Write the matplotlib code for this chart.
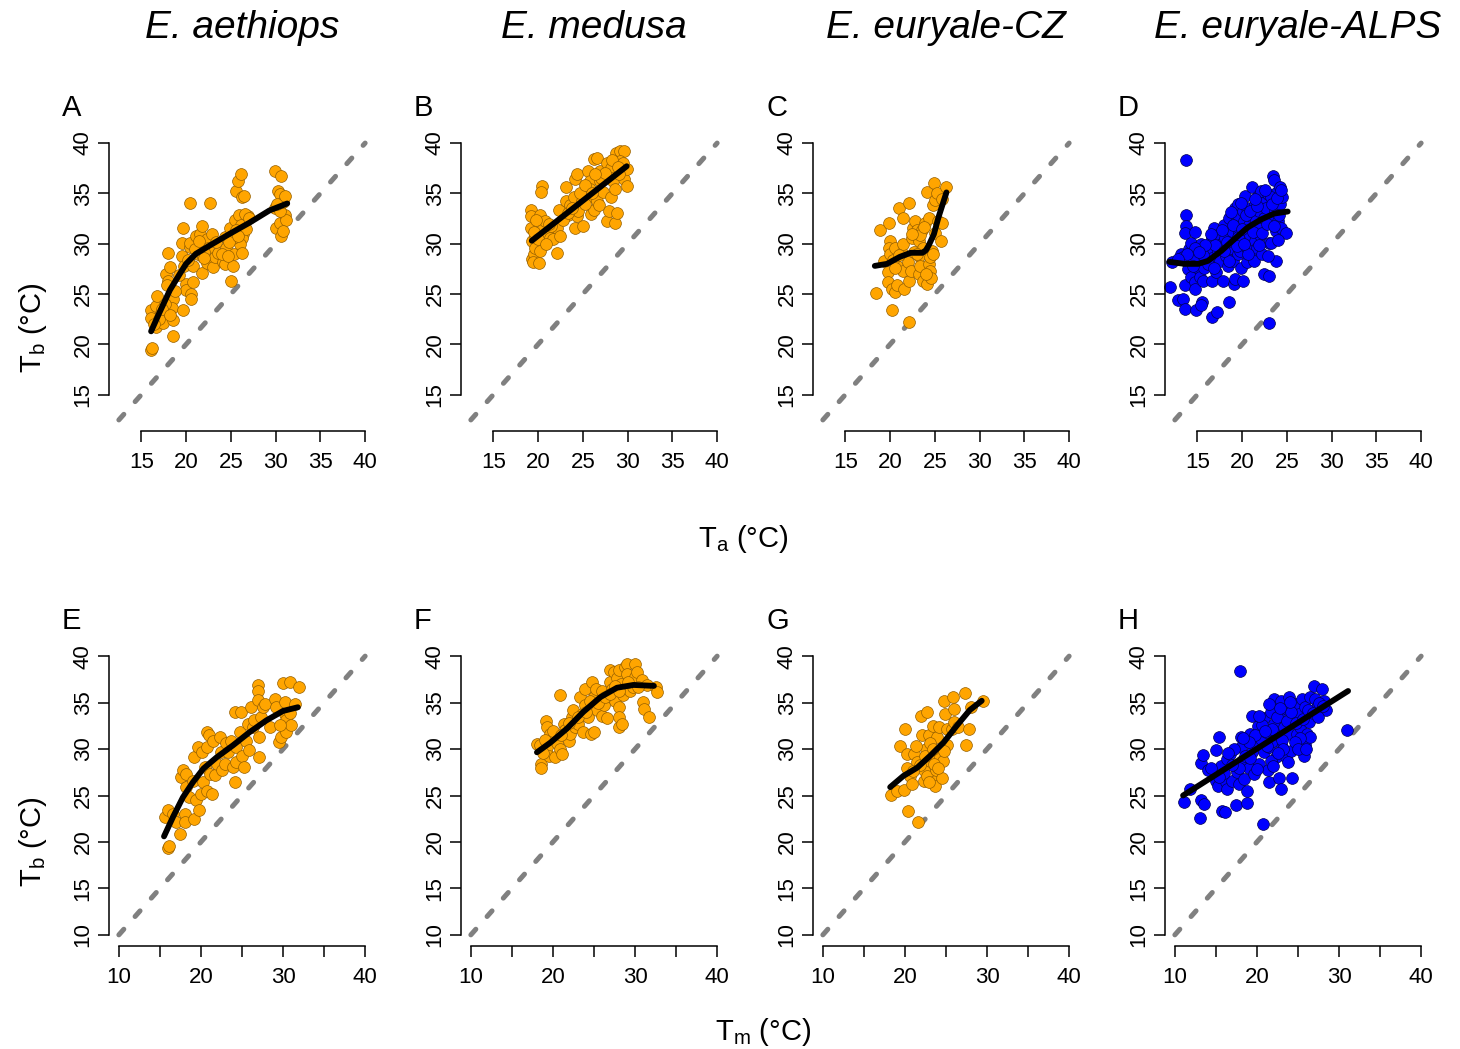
import matplotlib
matplotlib.use('Agg')
import matplotlib.pyplot as plt

plt.rcParams['font.family'] = ['Liberation Sans', 'DejaVu Sans']
plt.rcParams['mathtext.fontset'] = 'custom'
plt.rcParams['mathtext.rm'] = 'Liberation Sans'
plt.rcParams['mathtext.it'] = 'Liberation Sans:italic'

species = ['E. aethiops', 'E. medusa', 'E. euryale-CZ', 'E. euryale-ALPS']
letters_top = ['A', 'B', 'C', 'D']
letters_bottom = ['E', 'F', 'G', 'H']
fills = ['orange', 'orange', 'orange', 'blue']

#### T O P _ R O W : Tb vs Ta ####
A_x = [16.1, 16.1, 16.1, 16.15, 16.7, 16.7, 16.75, 17.2, 17.4, 18.0, 17.8, 18.0, 18.0, 18.2, 17.9, 18.5, 18.5, 18.5,
       18.4, 19.65, 19.65, 19.6, 19.6, 19.8, 20.0, 20.0, 20.4, 20.4, 20.4, 20.6, 20.5, 20.8, 20.8, 21.1, 21.3, 21.6,
       21.8, 21.8, 21.9, 22.3, 22.3, 22.4, 22.7, 22.9, 23.0, 23.2, 23.6, 24.1, 24.3, 24.4, 24.5, 25.0, 24.9, 25.2,
       25.4, 25.6, 25.8, 26.1, 26.2, 26.5, 25.5, 25.9, 26.1, 26.4, 26.2, 26.0, 26.2, 26.9, 25.2, 29.9, 30.6, 30.3,
       30.5, 29.9, 30.0, 30.6, 30.5, 31.0, 31.2, 30.8, 30.5, 30.8, 17.0, 17.6, 18.8, 19.2, 20.2, 21.0, 21.5, 22.0,
       23.4, 24.0, 24.8, 25.6, 26.6, 26.7, 27.0, 30.2, 31.1, 17.3, 18.2, 16.4, 22.0, 24.7, 25.8]
A_y = [23.4, 22.6, 19.4, 19.6, 23.8, 21.7, 24.8, 23.1, 22.1, 23.1, 27.0, 26.3, 29.1, 27.7, 25.95, 22.4, 20.8, 24.5,
       23.6, 23.4, 31.6, 28.8, 30.1, 27.8, 26.0, 25.4, 34.0, 29.7, 30.1, 25.0, 24.5, 26.2, 27.8, 30.8, 29.0, 31.0,
       31.8, 27.1, 28.7, 28.1, 30.5, 29.6, 34.0, 31.0, 27.7, 28.7, 29.1, 28.2, 30.7, 28.0, 29.6, 26.3, 31.6, 27.8,
       29.0, 35.2, 36.2, 36.9, 34.6, 34.7, 32.4, 32.9, 31.9, 31.0, 30.6, 30.0, 29.1, 32.8, 30.6, 37.2, 36.7, 35.2,
       34.9, 33.6, 31.6, 30.8, 32.1, 32.9, 32.4, 31.3, 33.3, 34.1, 22.5, 24.0, 25.3, 26.9, 28.4, 29.5, 30.3, 29.2,
       30.2, 29.0, 30.2, 31.4, 33.0, 31.5, 32.6, 33.9, 34.7, 23.5, 22.9, 22.0, 28.6, 28.8, 30.8]

B_x = [19.2, 19.2, 19.2, 19.3, 19.3, 19.5, 19.4, 20.1, 19.7, 19.7, 20.4, 20.3, 20.2, 20.2, 20.6, 20.8, 21.0, 21.3,
       21.7, 22.1, 22.3, 22.1, 22.4, 23.1, 23.1, 23.4, 23.6, 24.0, 24.1, 24.3, 24.1, 24.3, 24.5, 25.0, 24.9, 25.6,
       25.8, 25.8, 25.6, 25.9, 26.2, 26.3, 26.6, 26.6, 26.9, 26.9, 26.8, 27.3, 27.7, 27.9, 27.7, 28.1, 28.2, 28.4,
       28.1, 28.6, 28.6, 28.8, 28.7, 29.2, 29.6, 29.2, 29.4, 29.6, 29.9, 29.9, 29.0, 19.5, 20.0, 20.9, 21.5, 22.8,
       23.3, 24.7, 25.3, 26.0, 27.0, 27.5, 28.3, 29.5, 19.8, 21.2, 23.8, 25.2, 26.4, 28.9]
B_y = [33.4, 32.8, 31.6, 30.3, 28.5, 29.0, 28.2, 28.1, 29.6, 30.8, 35.7, 35.1, 32.9, 29.3, 31.6, 32.3, 31.1, 30.6,
       30.5, 29.1, 33.4, 31.6, 30.8, 35.6, 34.2, 32.9, 33.8, 34.6, 36.4, 36.9, 31.6, 32.8, 33.3, 31.8, 34.2, 37.2,
       36.2, 35.4, 34.6, 33.0, 33.4, 38.4, 38.5, 34.2, 37.2, 36.2, 33.8, 35.1, 32.3, 33.3, 38.0, 37.5, 36.5, 36.2,
       34.6, 35.4, 32.1, 33.1, 39.0, 39.2, 39.2, 38.2, 37.2, 36.4, 35.7, 37.4, 36.9, 31.2, 30.5, 30.0, 31.8, 32.4,
       33.1, 35.0, 35.8, 35.0, 36.5, 37.0, 38.3, 38.0, 32.4, 32.0, 33.6, 33.9, 36.9, 37.6]

C_x = [18.4, 18.9, 19.3, 19.8, 19.8, 19.9, 20.0, 19.9, 20.0, 20.2, 20.2, 20.5, 20.8, 20.6, 20.8, 21.0, 21.3, 21.5,
       21.5, 21.6, 21.5, 22.1, 22.0, 22.1, 22.1, 22.3, 22.4, 22.6, 22.8, 23.0, 23.2, 23.2, 23.2, 23.4, 23.6, 23.7,
       23.9, 24.1, 24.1, 24.3, 24.3, 24.5, 24.5, 24.6, 24.8, 24.9, 25.0, 25.0, 25.2, 25.4, 25.7, 25.8, 25.8, 26.3,
       24.7, 23.7, 23.4, 20.3, 21.0, 22.7, 23.0, 24.0, 24.8, 22.5, 23.8, 20.5]
C_y = [25.1, 31.4, 28.3, 27.2, 26.2, 32.1, 30.3, 29.6, 29.0, 23.4, 25.5, 25.2, 25.9, 29.6, 27.8, 33.6, 29.1, 30.0,
       27.3, 25.5, 32.6, 34.0, 28.2, 26.3, 22.2, 27.3, 30.6, 31.6, 32.3, 31.4, 30.3, 28.8, 27.0, 27.8, 31.4, 26.3,
       32.1, 35.1, 26.0, 32.6, 28.0, 28.7, 27.3, 26.6, 33.8, 36.0, 31.1, 34.3, 35.0, 32.3, 30.3, 32.1, 34.4, 35.6,
       29.3, 29.6, 30.9, 28.4, 28.9, 29.2, 29.0, 27.0, 29.0, 31.0, 31.7, 27.6]

D_x = [12.0, 12.2, 12.9, 13.2, 13.4, 13.6, 13.7, 13.7, 13.7, 13.6, 13.6, 13.8, 14.0, 14.1, 14.3, 14.3, 14.7, 14.7,
       14.9, 14.8, 14.9, 15.1, 15.3, 15.4, 15.5, 15.4, 15.6, 15.8, 16.0, 16.4, 16.6, 16.6, 16.7, 16.7, 16.9, 17.1,
       17.2, 17.3, 17.3, 17.5, 17.7, 17.9, 18.0, 18.1, 18.2, 18.4, 18.6, 18.6, 18.8, 18.9, 18.97, 19.1, 19.2, 19.2,
       19.3, 19.3, 19.5, 19.5, 19.5, 19.7, 19.8, 19.9, 20.1, 20.1, 20.2, 20.3, 20.3, 20.5, 20.6, 20.6, 20.8, 20.9,
       21.0, 21.1, 21.2, 21.3, 21.4, 21.5, 21.6, 21.7, 21.8, 21.8, 21.9, 22.0, 22.1, 22.2, 22.3, 22.4, 22.5, 22.7,
       22.9, 23.0, 23.0, 23.0, 23.2, 23.4, 23.5, 23.6, 23.7, 23.8, 23.8, 23.9, 24.0, 24.2, 24.2, 24.3, 24.5, 24.9,
       23.2, 19.0, 19.6, 20.0, 20.4, 20.9, 21.2, 21.7, 22.2, 22.8, 23.3, 23.9, 24.1, 18.3, 17.0, 16.2, 15.6, 14.5,
       13.4, 18.8, 19.9, 21.4, 22.6, 24.4, 20.7, 19.4, 18.6, 17.8, 16.5, 15.9, 14.8, 21.9, 22.9, 23.6, 24.0, 20.2,
       18.0, 16.9, 15.2, 13.9, 12.9]
D_y = [25.7, 28.2, 24.4, 29.0, 24.5, 23.5, 38.3, 32.9, 31.8, 31.1, 25.9, 28.3, 27.5, 29.5, 30.1, 26.7, 26.2, 25.5,
       23.4, 31.2, 28.6, 27.6, 26.7, 30.0, 24.2, 23.9, 26.3, 27.6, 29.0, 29.3, 30.6, 22.7, 28.6, 26.3, 31.6, 27.2,
       23.2, 30.9, 29.3, 28.3, 30.0, 26.3, 31.9, 30.6, 28.8, 27.8, 24.2, 32.6, 29.6, 31.3, 28.3, 26.0, 26.5, 33.6,
       32.2, 30.3, 29.0, 32.9, 33.9, 31.1, 29.3, 27.6, 26.3, 33.3, 32.3, 34.7, 30.6, 28.2, 33.6, 29.6, 31.9, 30.9,
       32.8, 35.6, 28.8, 28.3, 33.9, 30.3, 32.4, 29.6, 31.6, 34.7, 33.3, 30.9, 35.2, 29.0, 34.0, 27.0, 32.6, 33.6,
       34.9, 26.8, 22.1, 30.1, 30.1, 32.3, 36.7, 36.3, 33.3, 31.3, 28.3, 35.1, 32.3, 35.6, 33.9, 31.6, 34.6, 31.1,
       34.6, 31.9, 30.7, 31.5, 32.9, 33.3, 31.2, 33.7, 31.1, 32.0, 33.9, 34.5, 32.9, 30.2, 29.9, 28.0, 28.9, 27.8,
       28.7, 33.2, 34.0, 34.4, 35.3, 35.3, 29.0, 29.8, 28.3, 31.4, 31.0, 29.9, 29.6, 29.9, 28.8, 31.8, 30.4, 30.0,
       29.3, 27.6, 29.2, 29.0, 28.5]

#### B O T T O M _ R O W : Tb vs Tm ####
E_x = [15.6, 16.0, 16.0, 16.05, 16.6, 17.0, 17.4, 17.6, 17.8, 18.0, 18.0, 18.2, 18.2, 18.6, 19.0, 19.2, 19.2, 19.4,
       19.6, 19.8, 20.0, 20.1, 20.3, 20.5, 20.7, 20.7, 20.7, 21.0, 21.1, 21.3, 21.5, 21.7, 21.9, 22.3, 22.5, 22.6,
       22.9, 23.1, 23.3, 23.7, 23.9, 24.1, 24.1, 24.3, 24.3, 24.7, 24.9, 25.0, 25.3, 25.5, 25.7, 25.9, 26.1, 26.3,
       26.5, 26.9, 26.9, 26.9, 27.1, 27.1, 27.3, 27.5, 27.8, 28.4, 29.0, 29.2, 29.5, 29.8, 30.0, 30.2, 30.2, 30.4,
       30.4, 30.8, 30.8, 31.0, 31.5, 32.0, 29.6]
E_y = [22.7, 23.4, 19.4, 19.6, 23.0, 22.1, 20.9, 27.0, 27.7, 23.0, 22.1, 25.9, 27.3, 24.8, 26.6, 29.1, 22.5, 24.5,
       30.2, 23.4, 25.2, 29.7, 26.4, 28.1, 30.2, 25.5, 31.8, 31.5, 27.3, 25.2, 30.9, 27.2, 28.4, 31.3, 29.7, 27.7,
       28.4, 30.6, 29.7, 30.9, 28.1, 34.0, 26.4, 30.2, 28.6, 31.8, 34.0, 29.3, 28.1, 30.9, 32.7, 29.9, 34.5, 32.4,
       33.1, 36.9, 36.2, 35.3, 29.1, 31.3, 33.5, 34.5, 34.9, 32.4, 35.4, 34.5, 30.8, 31.3, 37.1, 33.8, 35.1, 33.1,
       31.8, 37.2, 33.9, 32.6, 34.8, 36.7, 32.6]

F_x = [18.05, 18.4, 18.5, 18.5, 19.1, 19.3, 19.3, 19.5, 19.7, 20.1, 20.3, 20.5, 20.8, 20.9, 21.1, 21.3, 21.5, 21.9,
       22.1, 22.3, 22.5, 22.7, 23.1, 23.3, 23.5, 23.7, 23.9, 23.9, 24.3, 24.6, 24.8, 25.0, 25.0, 25.2, 25.4, 25.8,
       26.0, 26.0, 26.2, 26.6, 26.9, 27.0, 27.2, 27.4, 27.6, 27.8, 28.0, 28.0, 28.1, 28.0, 28.3, 28.4, 28.5, 28.8,
       29.0, 29.0, 29.4, 29.8, 30.0, 30.0, 30.2, 30.9, 31.0, 31.1, 31.5, 31.7, 32.6, 32.7, 19.0, 20.0, 21.0, 22.0,
       23.0, 24.0, 24.5, 25.5, 26.3, 27.0, 27.5, 28.0, 29.2, 30.4, 18.8]
F_y = [30.55, 30.4, 28.4, 28.0, 33.0, 32.4, 30.2, 29.3, 31.6, 31.3, 29.1, 30.7, 35.8, 30.0, 29.5, 32.7, 32.0, 30.9,
       31.6, 33.4, 34.2, 32.4, 32.7, 35.6, 33.8, 31.8, 36.5, 34.7, 33.4, 31.6, 37.2, 31.8, 35.6, 36.5, 34.2, 35.1,
       36.3, 33.6, 34.7, 33.3, 38.5, 37.2, 36.5, 38.3, 35.2, 37.6, 34.5, 33.4, 38.5, 32.4, 37.0, 32.7, 35.8, 38.8,
       39.2, 38.1, 36.3, 36.7, 39.2, 37.8, 38.3, 37.4, 35.1, 34.3, 36.9, 33.4, 36.7, 36.1, 31.0, 31.9, 31.5, 32.8,
       33.5, 34.0, 35.2, 35.0, 35.6, 35.9, 36.8, 36.2, 37.2, 36.7, 29.6]

G_x = [18.3, 19.4, 19.0, 19.9, 20.0, 20.2, 20.3, 20.4, 20.6, 20.9, 21.1, 21.5, 21.6, 21.9, 22.1, 22.3, 22.3, 22.6,
       22.7, 22.7, 22.9, 23.0, 23.3, 23.4, 23.6, 23.7, 23.8, 23.9, 24.1, 24.3, 24.5, 24.6, 24.7, 24.9, 25.1, 25.1,
       25.7, 25.9, 26.0, 26.0, 26.5, 27.3, 27.4, 27.8, 28.0, 29.5, 23.1, 23.5, 21.3, 21.8, 22.4, 23.4, 24.0, 24.8,
       21.0, 22.9]
G_y = [25.1, 30.3, 25.5, 25.6, 32.2, 28.0, 29.5, 23.3, 27.1, 26.2, 29.5, 28.6, 22.2, 33.6, 31.5, 26.6, 27.7, 30.0,
       34.0, 27.1, 31.5, 28.7, 29.5, 32.5, 26.6, 26.0, 27.7, 31.3, 32.4, 29.1, 26.9, 28.7, 35.2, 33.8, 30.4, 32.2,
       32.2, 35.6, 34.3, 32.9, 32.4, 36.0, 30.4, 32.2, 34.5, 35.2, 30.7, 28.4, 30.3, 28.3, 29.3, 30.0, 28.0, 29.8,
       27.6, 26.4]

H_x = [11.1, 11.9, 13.1, 13.2, 13.4, 13.2, 13.6, 14.0, 15.0, 15.0, 15.2, 15.4, 15.6, 15.8, 16.1, 16.2, 16.3, 16.4,
       16.7, 17.0, 17.4, 17.6, 17.8, 17.9, 18.0, 18.0, 18.2, 18.4, 18.8, 18.8, 19.0, 19.2, 19.4, 19.4, 19.6, 19.9,
       20.1, 20.3, 20.5, 20.7, 20.9, 20.9, 21.1, 21.3, 21.5, 21.5, 21.7, 21.9, 22.1, 22.1, 22.3, 22.5, 22.7, 22.7,
       22.9, 22.9, 23.1, 23.3, 23.5, 23.7, 23.9, 24.0, 24.1, 24.3, 24.4, 24.7, 24.9, 25.1, 25.3, 25.5, 25.7, 25.8,
       25.9, 26.1, 26.3, 26.5, 26.5, 26.9, 27.1, 27.3, 27.9, 28.2, 28.4, 31.0, 21.7, 19.8, 20.6, 21.2, 21.8, 22.4,
       23.0, 23.6, 24.2, 24.8, 25.2, 25.6, 26.2, 26.8, 27.6, 18.6, 17.8, 16.9, 16.0, 15.4, 14.4, 19.2, 20.0, 22.0,
       23.2, 24.6, 21.5, 20.3, 19.0, 18.3, 22.6, 23.8, 25.0, 26.0, 27.4, 28.0, 17.2, 16.5, 24.0, 22.8, 21.0]
H_y = [24.3, 25.7, 22.6, 28.5, 29.4, 24.5, 24.1, 27.7, 29.9, 26.6, 26.0, 31.3, 28.2, 23.3, 23.2, 26.4, 28.9, 25.7,
       29.5, 26.6, 24.0, 27.5, 26.2, 38.4, 30.2, 31.3, 28.7, 26.8, 24.2, 25.5, 28.0, 31.6, 33.6, 29.7, 27.3, 30.6,
       32.5, 28.4, 31.1, 21.9, 33.3, 29.7, 31.8, 27.7, 26.4, 30.2, 34.0, 30.9, 35.4, 32.7, 29.1, 31.6, 26.9, 33.6,
       25.7, 35.2, 30.2, 32.4, 29.1, 34.3, 35.6, 31.6, 29.8, 26.9, 33.1, 34.9, 31.6, 33.8, 32.4, 35.4, 29.3, 30.4,
       34.5, 31.6, 32.9, 35.6, 31.3, 36.8, 35.4, 34.5, 36.5, 35.2, 34.2, 32.0, 28.7, 31.5, 32.6, 30.3, 32.2, 33.5,
       31.0, 33.0, 34.0, 32.8, 31.2, 33.2, 34.2, 33.9, 35.0, 29.3, 28.0, 28.3, 27.4, 27.0, 28.0, 29.0, 27.8, 28.2,
       30.0, 30.8, 34.8, 33.6, 30.8, 31.2, 29.6, 28.6, 30.0, 30.0, 33.4, 34.6, 30.0, 29.6, 35.1, 34.4, 31.9]

# fitted smooth curves
A_fit_x = [16.1, 17.0, 18.2, 19.3, 20.0, 21.1, 22.6, 24.9, 27.1, 29.3, 31.3]
A_fit_y = [21.3, 23.1, 25.4, 27.0, 28.0, 29.0, 29.8, 31.0, 32.1, 33.3, 34.0]
B_fit_x = [19.3, 29.9]
B_fit_y = [30.3, 37.7]
C_fit_x = [18.3, 19.65, 21.1, 22.3, 23.6, 24.0, 24.3, 24.9, 25.4, 26.3]
C_fit_y = [27.8, 28.0, 28.7, 29.1, 29.1, 29.35, 29.8, 30.95, 32.6, 35.1]
D_fit_x = [11.9, 13.6, 15.1, 16.2, 17.7, 19.2, 20.6, 22.1, 23.6, 25.1]
D_fit_y = [28.2, 28.0, 28.0, 28.3, 29.3, 30.5, 31.6, 32.4, 33.0, 33.2]
E_fit_x = [15.5, 16.6, 17.8, 19.0, 20.3, 21.9, 23.9, 25.9, 28.0, 30.0, 31.8]
E_fit_y = [20.6, 22.7, 24.8, 26.4, 27.9, 29.1, 30.4, 31.8, 33.1, 34.1, 34.5]
F_fit_x = [18.05, 19.7, 21.7, 23.7, 25.8, 27.8, 29.8, 32.3]
F_fit_y = [29.65, 30.7, 32.2, 34.0, 35.6, 36.6, 36.9, 36.8]
G_fit_x = [18.2, 19.8, 21.5, 23.1, 24.7, 26.3, 27.9, 29.35]
G_fit_y = [25.9, 27.1, 28.0, 29.3, 30.7, 32.5, 34.2, 35.2]
H_fit_x = [11.0, 31.1]
H_fit_y = [25.0, 36.25]

top_data = [(A_x, A_y, A_fit_x, A_fit_y), (B_x, B_y, B_fit_x, B_fit_y),
            (C_x, C_y, C_fit_x, C_fit_y), (D_x, D_y, D_fit_x, D_fit_y)]
bottom_data = [(E_x, E_y, E_fit_x, E_fit_y), (F_x, F_y, F_fit_x, F_fit_y),
               (G_x, G_y, G_fit_x, G_fit_y), (H_x, H_y, H_fit_x, H_fit_y)]

W, H = 1460, 1049
fig = plt.figure(figsize=(W / 100, H / 100), dpi=100)

col_left = [109, 461, 813, 1165]
panel_w = 266


def add_panel(left, top, bottom, lim, ticks, tick_labels, start, data, fill):
    ax = fig.add_axes([left / W, 1 - bottom / H, panel_w / W, (bottom - top) / H])
    x, y, fx, fy = data
    ax.plot([start, 40], [start, 40], color='#808080', lw=3.6, dashes=(1.5, 3.4),
            dash_capstyle='round', clip_on=False, zorder=1)
    if fill == 'blue':
        edge = '#000050'
    else:
        edge = '#966000'
    ax.scatter(x, y, s=72, facecolor=fill, edgecolor=edge, linewidth=0.5, clip_on=False, zorder=2)
    ax.plot(fx, fy, color='black', lw=4.2, solid_capstyle='round', clip_on=False, zorder=3)
    ax.set_xlim(lim)
    ax.set_ylim(lim)
    for s in ['top', 'right']:
        ax.spines[s].set_visible(False)
    for s in ['left', 'bottom']:
        ax.spines[s].set_linewidth(1.1)
        ax.spines[s].set_bounds(ticks[0], ticks[-1])
    ax.set_xticks(ticks)
    ax.set_xticklabels(tick_labels)
    ax.set_yticks(ticks)
    ax.set_yticklabels([str(t) for t in ticks], rotation=90, va='center')
    ax.tick_params(length=8, width=1.1, labelsize=16, direction='out')
    ax.tick_params(axis='x', pad=7)
    ax.tick_params(axis='y', pad=3)
    ax.patch.set_visible(False)
    return ax


# top row
for i in range(4):
    add_panel(col_left[i], 132, 431, (11.4, 41.1), [15, 20, 25, 30, 35, 40],
              ['15', '20', '25', '30', '35', '40'], 12.5, top_data[i], fills[i])
    fig.text((col_left[i] + panel_w / 2) / W, 1 - 38 / H, species[i], fontsize=28,
             style='italic', ha='center', va='baseline')
    fig.text((col_left[i] - 47) / W, 1 - 116 / H, letters_top[i], fontsize=21, ha='left', va='baseline')

# bottom row
for i in range(4):
    add_panel(col_left[i], 645, 946, (8.8, 41.2), [10, 15, 20, 25, 30, 35, 40],
              ['10', '', '20', '', '30', '', '40'], 10, bottom_data[i], fills[i])
    fig.text((col_left[i] - 47) / W, 1 - 629 / H, letters_bottom[i], fontsize=21, ha='left', va='baseline')

# axis labels
fig.text(33 / W, 1 - 282 / H, r'$\mathregular{T_b}$ (°C)', fontsize=21, rotation=90,
         ha='right', va='center', rotation_mode='anchor')
fig.text(33 / W, 1 - 796 / H, r'$\mathregular{T_b}$ (°C)', fontsize=21, rotation=90,
         ha='right', va='center', rotation_mode='anchor')
fig.text(743 / W, 1 - 547 / H, r'$\mathregular{T_a}$ (°C)', fontsize=21, ha='center', va='baseline')
fig.text(763 / W, 1 - 1040 / H, r'$\mathregular{T_m}$ (°C)', fontsize=21, ha='center', va='baseline')

fig.savefig('out.png', dpi=100)
